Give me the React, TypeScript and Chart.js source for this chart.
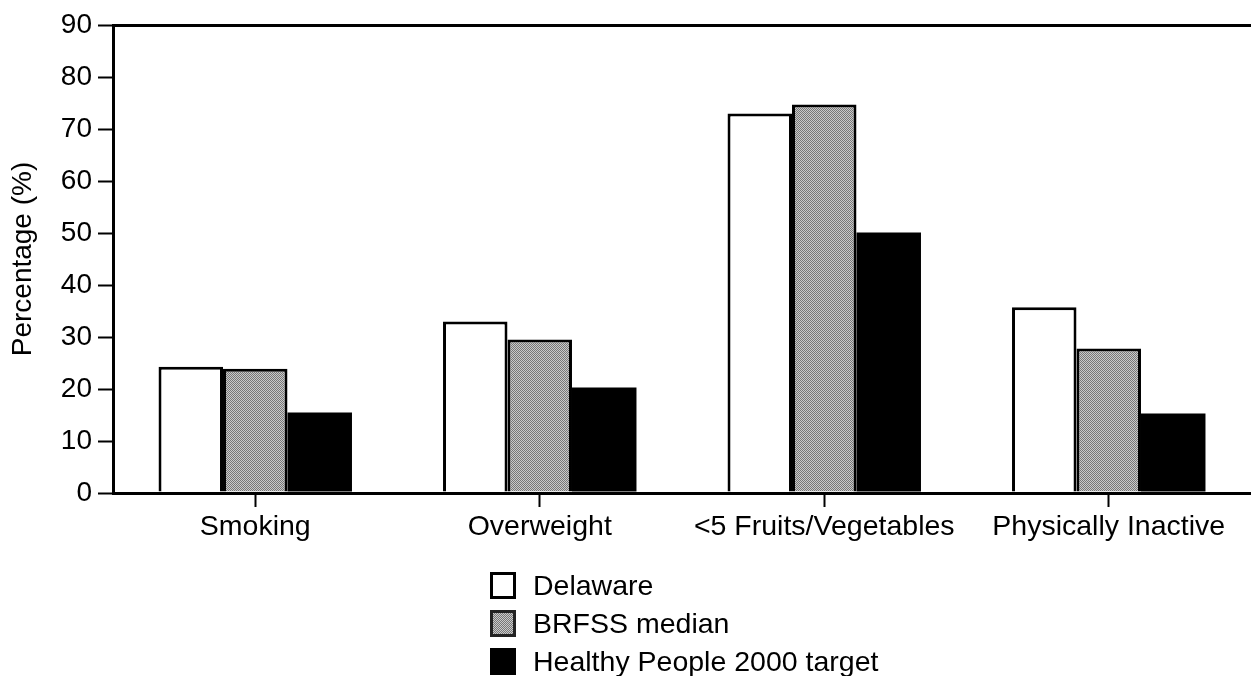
import React, { useEffect, useRef } from "react";
import { Chart, registerables } from "chart.js";

Chart.register(...registerables);

const categories = ["Smoking", "Overweight", "<5 Fruits/Vegetables", "Physically Inactive"];
const delaware = [24.3, 33, 73, 35.7];
const brfssMedian = [23.9, 29.5, 74.7, 27.8];
const hp2000Target = [15.5, 20.3, 50.1, 15.3];
const seriesNames = ["Delaware", "BRFSS median", "Healthy People 2000 target"];
const yMin = 0;
const yMax = 90;
const yStep = 10;
const yTitle = "Percentage (%)";

const FONT = '"Liberation Sans", Arial, Helvetica, sans-serif';

function makeHalftone(): CanvasPattern | string {
  const c = document.createElement("canvas");
  c.width = 2;
  c.height = 2;
  const g = c.getContext("2d");
  if (!g) return "#a2a2a2";
  g.fillStyle = "#cacaca";
  g.fillRect(0, 0, 2, 2);
  g.fillStyle = "#777777";
  g.fillRect(0, 0, 1, 1);
  g.fillRect(1, 1, 1, 1);
  const p = g.createPattern(c, "repeat");
  return p || "#a2a2a2";
}

export default function App() {
  const ref = useRef<HTMLCanvasElement | null>(null);

  useEffect(() => {
    const canvas = ref.current;
    if (!canvas) return;
    const halftone = makeHalftone();
    const chart = new Chart(canvas, {
      type: "bar",
      data: {
        labels: categories,
        datasets: [
          {
            label: seriesNames[0],
            data: delaware,
            backgroundColor: "#ffffff",
            borderColor: "#000000",
            borderWidth: 3,
          },
          {
            label: seriesNames[1],
            data: brfssMedian,
            backgroundColor: halftone as any,
            borderColor: "#000000",
            borderWidth: 3,
          },
          {
            label: seriesNames[2],
            data: hp2000Target,
            backgroundColor: "#000000",
            borderColor: "#000000",
            borderWidth: 0,
          },
        ],
      },
      options: {
        responsive: false,
        maintainAspectRatio: false,
        animation: false,
        layout: { padding: { top: 25, left: 0, right: 0, bottom: 0 } },
        datasets: {
          bar: { categoryPercentage: 0.68, barPercentage: 1.0 },
        },
        plugins: {
          legend: { display: false },
          tooltip: { enabled: false },
        },
        scales: {
          x: {
            afterFit: (scale: any) => {
              scale.height = 183;
            },
            grid: {
              offset: false,
              drawOnChartArea: false,
              drawTicks: true,
              tickLength: 14,
              tickColor: "#000000",
              tickWidth: 2,
              color: "#000000",
            },
            border: { display: true, color: "#000000", width: 3 },
            ticks: {
              color: "#000000",
              padding: 3,
              maxRotation: 0,
              autoSkip: false,
              font: { family: FONT, size: 28.5 },
            },
          },
          y: {
            min: yMin,
            max: yMax,
            afterFit: (scale: any) => {
              scale.width = 113;
            },
            ticks: {
              stepSize: yStep,
              color: "#000000",
              padding: 6,
              font: { family: FONT, size: 28 },
            },
            grid: {
              drawOnChartArea: true,
              drawTicks: true,
              tickLength: 15,
              tickColor: "#000000",
              tickWidth: 2,
              lineWidth: 3,
              color: (ctx: any) => (ctx.tick && ctx.tick.value === yMax ? "#000000" : "rgba(0,0,0,0)"),
            },
            border: { display: true, color: "#000000", width: 3 },
            title: {
              display: true,
              text: yTitle,
              color: "#000000",
              padding: { top: 6, bottom: 0 },
              font: { family: FONT, size: 28 },
            },
          },
        },
      },
    });
    return () => chart.destroy();
  }, []);

  const boxBase: React.CSSProperties = {
    width: 26,
    height: 27,
    boxSizing: "border-box",
    border: "3px solid #000",
    marginRight: 17,
    flex: "0 0 auto",
  };
  const legendBoxes: React.CSSProperties[] = [
    { ...boxBase, background: "#fff" },
    {
      ...boxBase,
      border: "3px solid #222",
      background: "repeating-conic-gradient(#777 0 25%, #cacaca 0 50%) 0 0 / 2px 2px",
    },
    { ...boxBase, background: "#000" },
  ];

  return (
    <div style={{ position: "fixed", left: 0, top: 0, width: 1251, height: 676, background: "#fff", overflow: "hidden" }}>
      <canvas ref={ref} width={1251} height={676} style={{ display: "block" }} />
      <div style={{ position: "absolute", left: 490, top: 566, fontFamily: FONT, fontSize: 28.5, color: "#000" }}>
        {seriesNames.map((name, i) => (
          <div key={name} style={{ display: "flex", alignItems: "center", height: 38 }}>
            <div style={legendBoxes[i]} />
            <span style={{ lineHeight: "30px" }}>{name}</span>
          </div>
        ))}
      </div>
    </div>
  );
}
